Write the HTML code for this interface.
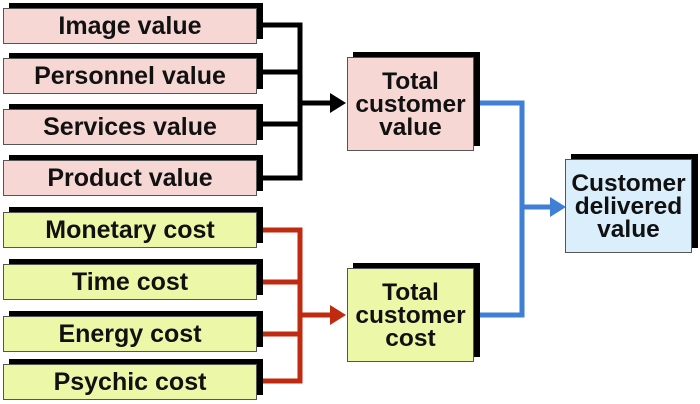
<!DOCTYPE html>
<html><head><style>
body{margin:0;width:700px;height:404px;background:#fff;overflow:hidden;position:relative;font-family:"Liberation Sans",Arial,sans-serif;font-weight:bold;}
.b{position:absolute;box-sizing:border-box;border:1.5px solid #555;display:flex;align-items:center;justify-content:center;text-align:center;font-size:25px;color:#111;box-shadow:6px -5px 0 #000;line-height:23px}
.t{font-size:24.5px}
.p{background:#f6d7d4}.g{background:#ecf8a8}.c{background:#dbeefc}
svg{position:absolute;left:0;top:0}
</style></head><body>
<svg width="700" height="404">
<g stroke="#000" stroke-width="5" fill="none">
<path d="M257 25H300V178H257M257 72H300M257 124H300M300 103H332"/>
</g>
<polygon points="330,93 346,103 330,113" fill="#000"/>
<g stroke="#bf2a10" stroke-width="5" fill="none">
<path d="M257 230H300V381H257M257 282H300M257 334H300M300 315H332"/>
</g>
<polygon points="330,305 346,315 330,325" fill="#bf2a10"/>
<g stroke="#3f7fd6" stroke-width="5" fill="none">
<path d="M474 103H522V315H474M522 207H552"/>
</g>
<polygon points="550,197 566,207 550,217" fill="#3f7fd6"/>
</svg>
<div class="b p" style="left:3px;top:8px;width:254px;height:36px">Image value</div>
<div class="b p" style="left:3px;top:58px;width:254px;height:36px">Personnel value</div>
<div class="b p" style="left:3px;top:109px;width:254px;height:36px">Services value</div>
<div class="b p" style="left:3px;top:160px;width:254px;height:36px">Product value</div>
<div class="b g" style="left:3px;top:212px;width:254px;height:36px">Monetary cost</div>
<div class="b g" style="left:3px;top:264px;width:254px;height:36px">Time cost</div>
<div class="b g" style="left:3px;top:316px;width:254px;height:36px">Energy cost</div>
<div class="b g" style="left:3px;top:364px;width:254px;height:36px">Psychic cost</div>
<div class="b p t" style="left:347px;top:57px;width:127px;height:94px">Total<br>customer<br>value</div>
<div class="b g t" style="left:347px;top:268px;width:127px;height:94px">Total<br>customer<br>cost</div>
<div class="b c t" style="left:565px;top:159px;width:127px;height:94px">Customer<br>delivered<br>value</div>
</body></html>
